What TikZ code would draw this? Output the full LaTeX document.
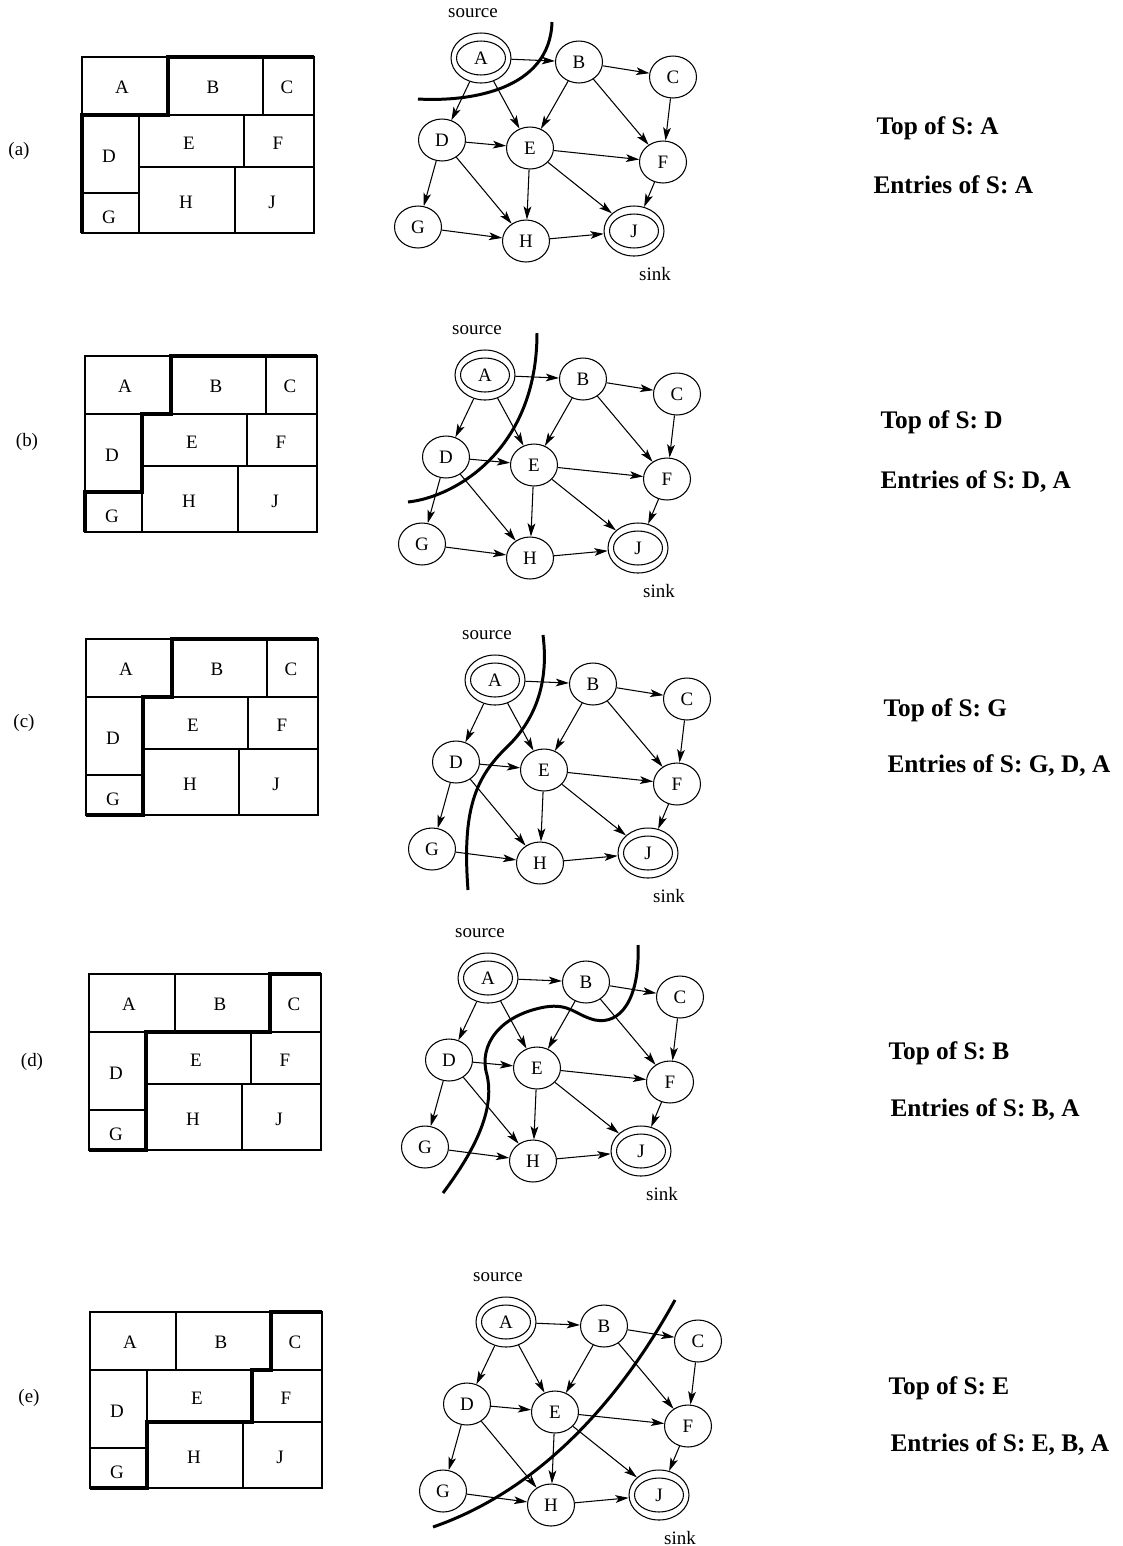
\documentclass[tikz,border=0pt]{standalone}
\usepackage{fontspec}
\setmainfont{Liberation Serif}
\usetikzlibrary{arrows.meta,shapes.geometric}

\tikzset{
  vtx/.style={draw,ellipse,inner sep=0pt,minimum width=0.94cm,minimum height=0.84cm,
    font=\fontsize{10.8}{12}\selectfont},
  ring/.style={draw,ellipse,inner sep=0pt,minimum width=1.2cm,minimum height=1cm},
  core/.style={vtx,minimum width=0.98cm,minimum height=0.68cm},
  edge/.style={-{Stealth[length=7.5pt,width=4.4pt,inset=1.8pt]},line width=0.6pt},
  cut/.style={line width=1.7pt},
  wall/.style={line width=2.6pt},
  tag/.style={font=\fontsize{10.8}{12}\selectfont},
  stack/.style={anchor=west,inner sep=0pt,font=\bfseries\fontsize{14.4}{17}\selectfont},
}

\begin{document}
\begin{tikzpicture}[x=0.02cm,y=-0.02cm,line width=0.6pt]
\useasboundingbox (0,0) rectangle (1123,1546);

% floorplan, graph and panel label of every row
\foreach \p/\fx/\fy/\lx/\ly/\gx/\gy in {a/82/57/19/151/481/58,b/85/356/27/442/485/375,
    c/86/639/24/723/495/680,d/89/974/32/1062/488/978,e/90/1312/29/1398/506/1322}{
  \node[tag] (\p lbl) at (\lx,\ly) {(\p)};
  \begin{scope}[shift={(\fx,\fy)}]
    \draw (0,0) rectangle (232,176);
    \draw (0,58) -- (232,58) (86,0) -- (86,58) (181,0) -- (181,58)
          (57,58) -- (57,176) (0,136) -- (57,136)
          (57,110) -- (232,110) (162,58) -- (162,110) (153,110) -- (153,176);
    \node[tag] (\p fA) at (40,30) {A};
    \node[tag] (\p fB) at (131,30) {B};
    \node[tag] (\p fC) at (205,30) {C};
    \node[tag] (\p fD) at (27,99) {D};
    \node[tag] (\p fE) at (107,86) {E};
    \node[tag] (\p fF) at (196,86) {F};
    \node[tag] (\p fG) at (27,160) {G};
    \node[tag] (\p fH) at (104,145) {H};
    \node[tag] (\p fJ) at (190,145) {J};
  \end{scope}
  \begin{scope}[shift={(\gx,\gy)}]
    \node[ring] (\p A) at (0,0) {};
    \node[core] (\p Ain) at (\p A) {A};
    \node[vtx] (\p B) at (98,4) {B};
    \node[vtx] (\p C) at (192,19) {C};
    \node[vtx] (\p D) at (-39,82) {D};
    \node[vtx] (\p E) at (49,90) {E};
    \node[vtx] (\p F) at (182,104) {F};
    \node[vtx] (\p G) at (-63,169) {G};
    \node[vtx] (\p H) at (45,183) {H};
    \node[ring] (\p J) at (153,173) {};
    \node[core] (\p Jin) at (\p J) {J};
    \node[tag] (\p src) at (-8,-45) {source};
    \node[tag] (\p snk) at (174,216) {sink};
  \end{scope}
  \foreach \u/\v in {A/B,A/D,A/E,B/C,B/E,B/F,C/F,D/E,D/G,D/H,E/F,E/H,E/J,F/J,G/H,H/J}
    \draw[edge] (\p\u) -- (\p\v);
}

% thick boundaries in the floorplans
\draw[wall] (82,233) -- (82,115) -- (168,115) -- (168,57) -- (314,57);
\draw[wall] (85,532) -- (85,492) -- (142,492) -- (142,414) -- (171,414) -- (171,356) -- (317,356);
\draw[wall] (86,815) -- (143,815) -- (143,697) -- (172,697) -- (172,639) -- (318,639);
\draw[wall] (89,1150) -- (146,1150) -- (146,1032) -- (270,1032) -- (270,974) -- (321,974);
\draw[wall] (90,1488) -- (147,1488) -- (147,1422) -- (252,1422) -- (252,1370) -- (271,1370)
  -- (271,1312) -- (322,1312);

% cuts in the graphs
\draw[cut] (552,22) .. controls (550,90) and (470,102) .. (418,99);
\draw[cut] (537,333) .. controls (537,450) and (455,497) .. (408,502);
\draw[cut] (543,635) .. controls (550,690) and (530,725) .. (507,747)
  .. controls (475,778) and (462,810) .. (468,890);
\draw[cut] (638,945) .. controls (640,1000) and (620,1025) .. (595,1020)
  .. controls (575,1015) and (570,1003) .. (545,1007)
  .. controls (500,1015) and (478,1045) .. (487,1075)
  .. controls (495,1110) and (475,1150) .. (443,1193);
\draw[cut] (675,1300) .. controls (620,1400) and (540,1490) .. (433,1527);

% stack contents
\node[stack] (topa) at (876,128) {Top of S: A};
\node[stack] (enta) at (873,185) {Entries of S: A};
\node[stack] (topb) at (880,422) {Top of S: D};
\node[stack] (entb) at (880,482) {Entries of S: D, A};
\node[stack] (topc) at (883,710) {Top of S: G};
\node[stack] (entc) at (887,766) {Entries of S: G, D, A};
\node[stack] (topd) at (888,1053) {Top of S: B};
\node[stack] (entd) at (890,1110) {Entries of S: B, A};
\node[stack] (tope) at (888,1388) {Top of S: E};
\node[stack] (ente) at (890,1445) {Entries of S: E, B, A};
\end{tikzpicture}
\end{document}
